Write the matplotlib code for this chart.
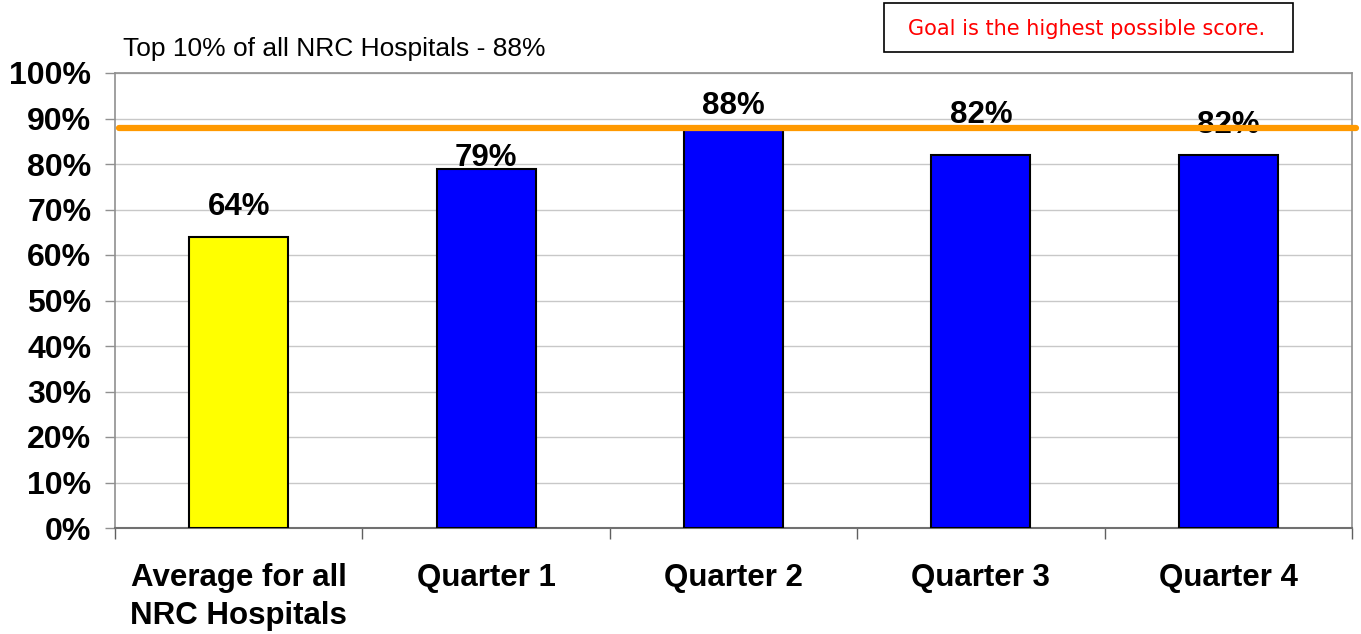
import numpy as np
import matplotlib
matplotlib.use('Agg')
import matplotlib.pyplot as plt
from matplotlib.patches import Rectangle
from matplotlib.ticker import FixedLocator, FuncFormatter

# 데이터
categories = ['Average for all\nNRC Hospitals', 'Quarter 1', 'Quarter 2', 'Quarter 3', 'Quarter 4']
scores = [64, 79, 88, 82, 82]
bar_colors = ['#FFFF00', '#0000FF', '#0000FF', '#0000FF', '#0000FF']
top10_value = 88
top10_text = 'Top 10% of all NRC Hospitals - 88%'
goal_text = 'Goal is the highest possible score.'
# 라벨 위치 (막대 위 간격, pt) - 원본에서 수동으로 옮겨진 값
label_gap = [16, 1.5, 10, 23, 16]

plt.rcParams['font.family'] = ['Liberation Sans', 'DejaVu Sans']

W, H = 1361, 634
fig = plt.figure(figsize=(W / 100, H / 100), dpi=100)
ax = fig.add_axes([115 / W, 1 - 528 / H, (1352 - 115) / W, (528 - 73) / H])

x = np.arange(len(categories))
ax.bar(x, scores, width=0.4, color=bar_colors, edgecolor='black', linewidth=1.5, zorder=3)

ax.set_xlim(-0.5, len(categories) - 0.5)
ax.set_ylim(0, 100)

# 격자
ax.set_yticks(np.arange(0, 101, 10))
ax.yaxis.set_major_formatter(FuncFormatter(lambda v, p: '{:d}%'.format(int(v))))
ax.grid(axis='y', color='#C8C8C8', linewidth=1.0, zorder=0)
ax.tick_params(axis='y', length=7, width=1, color='#909090', pad=10, labelsize=23)
for lab in ax.get_yticklabels():
    lab.set_fontweight('bold')

# 가로축
ax.set_xticks(x)
ax.set_xticklabels(categories, fontsize=22.5, fontweight='bold', linespacing=1.35)
ax.tick_params(axis='x', which='major', length=0, pad=25)
ax.xaxis.set_minor_locator(FixedLocator(np.arange(-0.5, len(categories), 1.0)))
ax.tick_params(axis='x', which='minor', length=8, width=1, color='#606060')

for s in ['left', 'top', 'right']:
    ax.spines[s].set_color('#909090')
    ax.spines[s].set_linewidth(1.2)
ax.spines['bottom'].set_color('#707070')
ax.spines['bottom'].set_linewidth(1.5)

# 데이터 라벨
for xi, v, g in zip(x, scores, label_gap):
    ax.annotate('{}%'.format(v), (xi, v), xytext=(0, g), textcoords='offset points',
                ha='center', va='baseline', fontsize=22.5, fontweight='bold', zorder=4)

# 상위 10% 선
ax.axhline(top10_value, xmin=0.003, xmax=(1356 - 115) / (1352 - 115), color='#FF9900',
           linewidth=4.5, solid_capstyle='round', clip_on=False, zorder=5)

fig.text(123 / W, 1 - 56 / H, top10_text, fontsize=19, ha='left', va='baseline')

# 목표 상자
fig.patches.append(Rectangle((884 / W, 1 - 52 / H), (1293 - 884) / W, 49 / H,
                             transform=fig.transFigure, facecolor='white',
                             edgecolor='black', linewidth=1.2))
fig.text(1087 / W, 1 - 29 / H, goal_text, fontsize=15, color='#FF0000',
         ha='center', va='center', family='DejaVu Sans')

plt.savefig('out.png', dpi=100)
